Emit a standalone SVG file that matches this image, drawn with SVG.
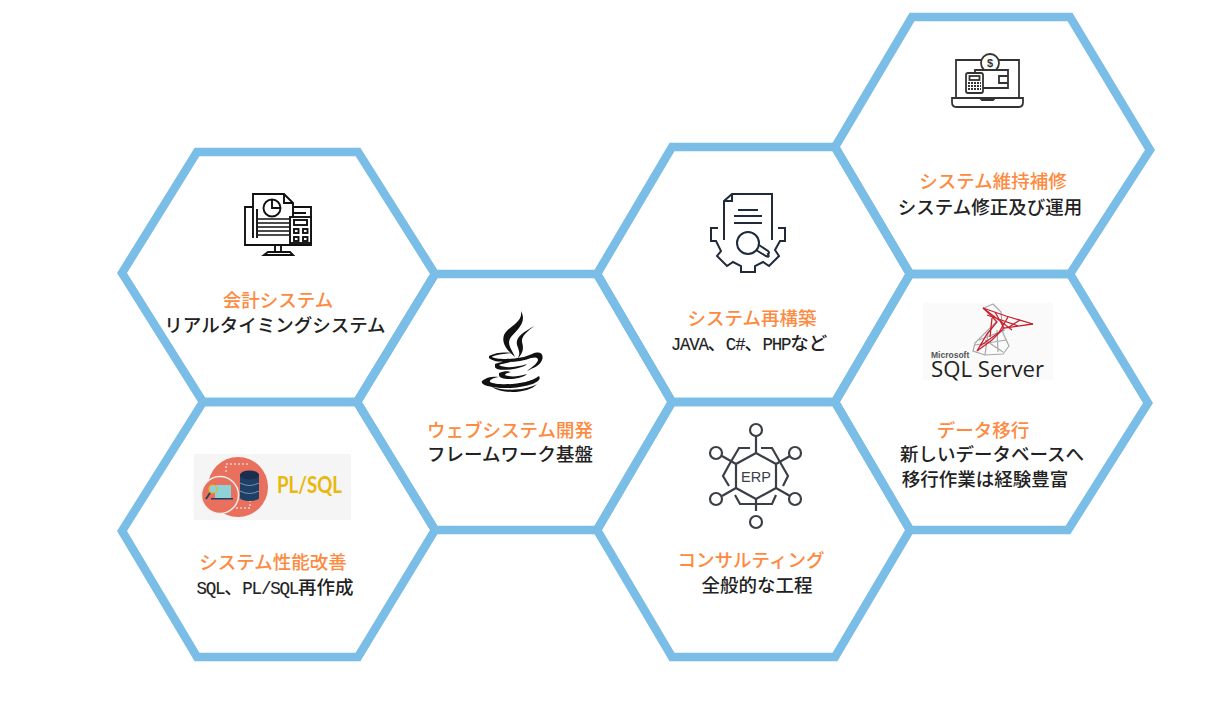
<svg xmlns="http://www.w3.org/2000/svg" width="1227" height="702" viewBox="0 0 1227 702">
<style>
.hex{fill:none;stroke:#7abde6;stroke-width:8.500;stroke-linejoin:miter}
text{font-family:"Noto Sans CJK JP","Noto Sans",sans-serif;font-size:18.500px;text-anchor:middle}
.t{fill:#fd8a3f;font-weight:500}
.s{fill:#222;font-weight:500}
.m{font-family:"Liberation Mono","Noto Sans CJK JP",monospace;font-size:17.500px;letter-spacing:-1.200px;stroke:#222;stroke-width:.15}
.c{font-family:"Noto Sans CJK JP",sans-serif;font-size:18px;letter-spacing:0;stroke:none}
.i{fill:none;stroke:#111;stroke-width:1.900}
.n{fill:none;stroke:#1f2a3a;stroke-width:2}
.e{fill:none;stroke:#3a3f47;stroke-width:2.200}
.w{fill:none;stroke:#333;stroke-width:1.800}
.r{fill:none;stroke:#c8202c;stroke-width:1.300}
.g{fill:none;stroke:#a8a8a8;stroke-width:1.200}
.l{font-family:"Liberation Sans",sans-serif}
</style>
<rect width="1227" height="702" fill="#fff"/>
<g id="node-accounting">
<path class="hex" d="M197 152H358L435 274L357 402H203L122 273Z"/>
<g class="i">
<path d="M253 207H245V245H311V207H293M257 209V238M293 213H306"/>
<path d="M253 238V194H284L293 203V221M284 194V203H293"/>
<circle cx="272" cy="208" r="8.500"/><path d="M272 200V208H280"/>
<path d="M258 219H289M258 223H289M258 227H289M258 231H289M258 235H289" stroke-width="1.500"/>
<rect x="290" y="217" width="21" height="26" fill="#fff"/>
<rect x="294" y="220" width="13" height="5"/>
<rect x="294" y="229" width="4.500" height="4"/><rect x="303" y="229" width="4.500" height="4"/><rect x="294" y="237" width="4.500" height="4"/><rect x="303" y="237" width="4.500" height="4"/>
<path d="M275 245V252M281 245V252M264 255L268 252H290L293 255Z"/>
</g>
<text class="t" x="278" y="307">会計システム</text>
<text class="s" x="275" y="332">リアルタイミングシステム</text>
</g>
<g id="node-performance">
<path class="hex" d="M203 402H357L435 530L358 657H197L122 531Z"/>
<rect x="194" y="454" width="157" height="66" fill="#f5f5f5"/>
<circle cx="238" cy="487" r="30" fill="#e8705c"/>
<circle cx="220" cy="495" r="18.500" fill="#e8705c" stroke="#eee" stroke-width="1.500"/>
<path d="M226 472V464H250M250 500V508H234" fill="none" stroke="#fff" stroke-width="1" stroke-dasharray="2 2"/>
<rect x="240" y="474" width="19" height="24" fill="#1f3f66"/>
<ellipse cx="249.500" cy="475" rx="9.500" ry="4.500" fill="#1a2f4f"/>
<ellipse cx="249.500" cy="498" rx="9.500" ry="3" fill="#1f3f66"/>
<path d="M240 483Q249.500 488 259 483M240 491Q249.500 496 259 491" fill="none" stroke="#8fa6c0" stroke-width=".8"/>
<rect x="215" y="485" width="16" height="13" fill="#8ed1d6"/>
<rect x="211" y="498" width="22" height="1.500" fill="#1f3f66"/>
<circle cx="213" cy="489" r="4" fill="#8ed1d6" stroke="#eab71a" stroke-width="1.200"/>
<path d="M210 493L206 499" stroke="#1f3f66" stroke-width="1.800"/>
<text x="277" y="493" textLength="65" lengthAdjust="spacingAndGlyphs" style="font-family:Lato,sans-serif;font-size:22px;font-weight:700;fill:#e9b80d;text-anchor:start">PL/SQL</text>
<text class="t" x="273" y="569">システム性能改善</text>
<text class="s" x="275" y="594"><tspan class="m">SQL<tspan class="c">、</tspan>PL/SQL</tspan>再作成</text>
</g>
<g id="node-web">
<path class="hex" d="M435 274H597L672 402L597 530H435L357 402Z"/>
<g fill="#111">
<path d="M521 311C527 322 518 329 511 337C506 344 512 350 515 357C508 351 501 344 504 335C508 326 523 323 521 311Z"/>
<path d="M534 326C524 332 515 337 517 345C519 351 521 354 517 359C525 352 523 346 522 342C521 336 528 331 534 326Z"/>
<path d="M489 356C496 352 505 352 512 353C503 354 494 355 492 357C497 360 520 360 532 354C541 350 544 355 542 360C540 366 533 368 527 371C532 367 537 364 538 360C538 357 535 357 531 358C518 363 495 364 489 358Z"/>
<path d="M495 364C500 362 506 361 511 362C506 363 501 364 499 365C503 368 515 368 527 364C521 370 496 372 495 367Z"/>
<path d="M499 373C504 371 507 371 511 372C507 373 505 374 505 375C509 377 518 377 527 374C521 380 499 381 499 375Z"/>
<path d="M482 381C486 377 493 376 499 377C493 378 489 380 490 382C497 386 528 385 539 376C544 383 520 389 500 388C490 387 480 385 482 381Z"/>
<path d="M492 387C505 391 525 391 537 384C530 393 503 395 492 387Z"/>
</g>
<text class="t" x="510" y="437">ウェブシステム開発</text>
<text class="s" x="510" y="461">フレームワーク基盤</text>
</g>
<g id="node-rebuild">
<path class="hex" d="M672 147H835L910 274L835 402H672L597 274Z"/>
<g class="n">
<path d="M724 240V201L732 194H772V240M724 201H732V194"/>
<path d="M738 210H758M734 216H762M734 223H762"/>
<circle cx="748" cy="243" r="11"/>
<path d="M756 250L766 256Q770 258 768 254Q770 253 768 251L759 245"/>
<path d="M718 228H711V241H716L721 251L717 256L727 266L733 262L741 266V272H755V266L763 262L769 266L779 256L775 250L780 241H785V228H778"/>
</g>
<text class="t" x="752" y="325">システム再構築</text>
<text class="s" x="749" y="350"><tspan class="m">JAVA<tspan class="c">、</tspan>C#<tspan class="c">、</tspan>PHP</tspan>など</text>
</g>
<g id="node-consulting">
<path class="hex" d="M672 402H835L910 530L835 657H672L597 530Z"/>
<g class="e">
<path d="M756 453L776 464V488L756 499L736 488V464Z"/>
<path d="M756 453V436M736 464L722 456M776 464L790 456M736 488L722 496M776 488L790 496M756 499V511"/>
<circle cx="756" cy="430" r="6"/><circle cx="716" cy="453" r="6"/><circle cx="795" cy="453" r="6"/><circle cx="716" cy="499" r="6"/><circle cx="795" cy="499" r="6"/><circle cx="756" cy="522" r="6"/>
<path d="M750 448H739L729 465L723 476L729 486M761 448H772L788 476L783 486M735 495L740 504H772L776 495"/>
</g>
<text class="l" x="756" y="482" style="font-size:14.500px;fill:#3a3f47">ERP</text>
<text class="t" x="751" y="567">コンサルティング</text>
<text class="s" x="757" y="592">全般的な工程</text>
</g>
<g id="node-maintenance">
<path class="hex" d="M912 17H1070L1150 150L1070 274H910L835 147Z"/>
<g class="w">
<path d="M956 97V60H1019V97"/>
<path d="M952 98H1023V102Q1023 107 1019 107H956Q952 107 952 102ZM980 98L982 100H993L995 98"/>
<circle cx="990" cy="63" r="9" fill="#fff"/>
<text class="l" x="990" y="67" stroke="none" style="font-size:11px;font-weight:700;fill:#333">$</text>
<path d="M975 88V70H1008V88H982" fill="#fff"/><path d="M1008 76H999V83H1008"/>
<rect x="966" y="73" width="17" height="20" rx="2" fill="#fff"/><rect x="969.500" y="76" width="10" height="4"/>
<path d="M968 83H981M968 86H981M968 89H981" stroke-dasharray="2 1"/>
</g>
<text class="t" x="993" y="188">システム維持補修</text>
<text class="s" x="990" y="214">システム修正及び運用</text>
</g>
<g id="node-migration">
<path class="hex" d="M910 274H1070L1148 403L1068 530H910L835 402Z"/>
<rect x="923" y="303" width="130" height="77" fill="#fafafa"/>
<path class="g" d="M993 304L1001 312L1003 333L1009 346L1003 354L985 355L973 351L975 343L985 333L996 322M985 340L1003 352M988 333L985 355M997 330L998 352M975 345L1006 340M979 340L1005 330M993 304L984 308"/>
<g class="r">
<path d="M983 308L1006 316L1033 324L1004 328L992 340L977 351L987 334L997 322Q990 314 983 308Z"/>
<path d="M983 308L1012 330M995 312L1004 328M1008 317L998 334M1020 320L1009 327M987 315L1018 326M992 318L990 337M980 346L1001 331"/>
</g>
<text class="l" x="931" y="358" style="font-size:8.500px;font-weight:700;fill:#555;text-anchor:start">Microsoft</text>
<text x="931" y="377" textLength="113" lengthAdjust="spacingAndGlyphs" style="font-family:'Open Sans',sans-serif;font-size:21px;fill:#222;text-anchor:start">SQL Server</text>
<text class="t" x="983" y="437">データ移行</text>
<text class="s" x="992" y="461">新しいデータベースへ</text>
<text class="s" x="985" y="486">移行作業は経験豊富</text>
</g>
</svg>
